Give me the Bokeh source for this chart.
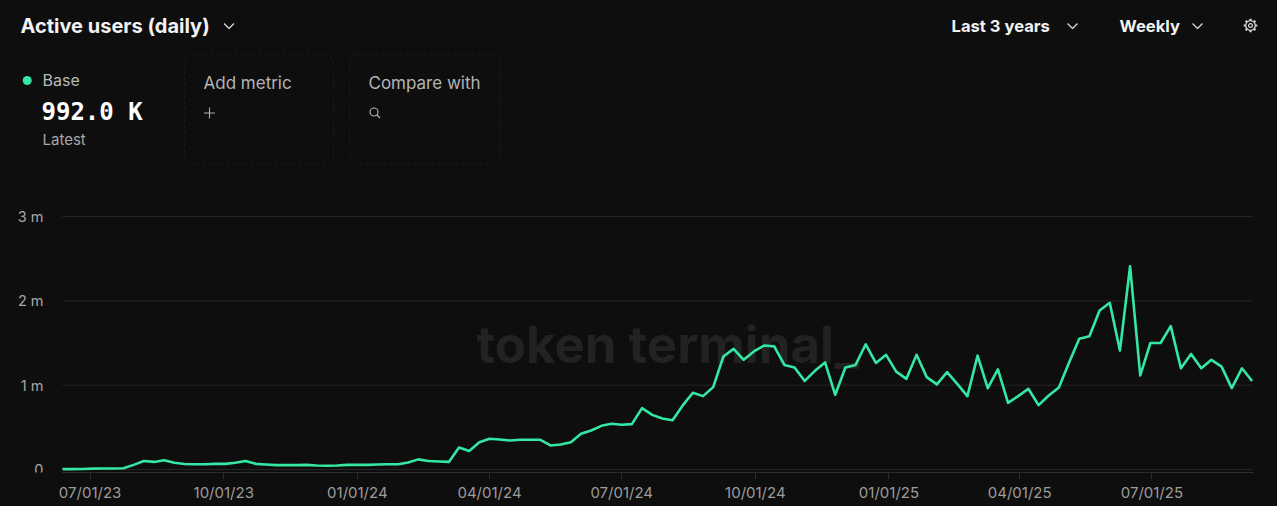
import math
import pandas as pd
from bokeh.plotting import figure
from bokeh.models import (Range1d, FixedTicker, DatetimeTickFormatter,
                          Label, BoxAnnotation, ColumnDataSource)
from bokeh.embed import file_html
from bokeh.resources import INLINE
from bokeh.core.properties import value

# ---------------- data ----------------
start_week = "2023-06-12"
active_users_k = [
    4, 5, 6, 10, 12, 12, 15, 55, 100, 90,
    110, 80, 65, 63, 63, 67, 67, 80, 100, 67,
    60, 52, 52, 52, 55, 47, 44, 47, 55, 55,
    55, 60, 63, 63, 83, 120, 100, 95, 90, 260,
    220, 324, 364, 356, 344, 352, 352, 352, 285, 297,
    324, 423, 463, 518, 542, 530, 538, 728, 648, 605,
    585, 760, 910, 870, 977, 1340, 1430, 1300, 1400, 1470,
    1460, 1240, 1210, 1050, 1170, 1270, 886, 1210, 1240, 1485,
    1263, 1360, 1160, 1075, 1360, 1095, 1010, 1155, 1016, 870,
    1350, 965, 1186, 790, 870, 957, 763, 878, 973, 1270,
    1550, 1580, 1886, 1977, 1410, 2410, 1115, 1500, 1500, 1700,
    1200, 1370, 1200, 1300, 1220, 965, 1200, 1050,
]
tick_dates = ["2023-07-01", "2023-10-01", "2024-01-01", "2024-04-01", "2024-07-01",
              "2024-10-01", "2025-01-01", "2025-04-01", "2025-07-01"]
y_ticks = [0, 1_000_000, 2_000_000, 3_000_000]
y_tick_labels = ["0", "1 m", "2 m", "3 m"]
title_text = "Active users (daily)"
period_text = "Last 3 years"
freq_text = "Weekly"
series_name = "Base"
latest_value = "992.0 K"

dates = pd.date_range(start_week, periods=len(active_users_k), freq="7D")
users = [v * 1000 for v in active_users_k]
src = ColumnDataSource(dict(date=dates, users=users))

# ---------------- style / layout ----------------
BG = "#0e0e0e"
LINE = "#34e8a4"
FONT = "Inter"
W, H = 1277, 506
PLOT_L, PLOT_R = 62, 1252            # page x where the data area starts / ends
FB = 472                             # page y of frame bottom (x-axis line)
PX_PER_M = 84.33                     # vertical scale: pixels per million
ZERO_Y = 469                         # page y of the zero line
PX_PER_DAY = 1.4525

p = figure(width=W, height=H, x_axis_type="datetime",
           x_range=Range1d(dates[0] - pd.Timedelta(days=PLOT_L / PX_PER_DAY),
                           dates[0] + pd.Timedelta(days=(W - PLOT_L) / PX_PER_DAY)),
           y_range=Range1d(-(FB - ZERO_Y) / PX_PER_M * 1e6, ZERO_Y / PX_PER_M * 1e6),
           y_axis_location=None,
           output_backend="svg", toolbar_location=None,
           min_border_left=0, min_border_right=0, min_border_top=0, min_border_bottom=H - FB)
p.background_fill_color = BG
p.border_fill_color = BG
p.outline_line_color = None
p.grid.grid_line_color = None

# page-pixel coordinate system for header decorations (y = -page_y)
p.extra_x_ranges = {"px": Range1d(0, W)}
p.extra_y_ranges = {"px": Range1d(-FB, 0)}
PXR = dict(x_range_name="px", y_range_name="px")


def lab(x, y, s, size, color, font=FONT, style="normal", level="annotation"):
    p.add_layout(Label(x=x, y=-y, text=s, text_font=font, text_font_size=f"{size}px",
                       text_font_style=style, text_color=color, text_baseline="middle",
                       text_align="left", level=level, **PXR))


def chevron(cx, cy, color="#d8d8d8"):
    p.line(x=[cx - 5, cx, cx + 5], y=[-(cy - 2.5), -(cy + 2.5), -(cy - 2.5)],
           line_color=color, line_width=1.3, **PXR)


# horizontal grid lines at the y ticks (data y, page x extent)
p.segment(x0=PLOT_L, x1=PLOT_R, y0=y_ticks, y1=y_ticks, line_color="#262626", line_width=1,
          x_range_name="px", level="underlay")
# y tick labels
p.text(x=43, y=y_ticks, text=y_tick_labels, text_align="right", text_baseline="middle",
       text_font=value(FONT), text_font_size="14.5px", text_color="#a8a8a8", x_range_name="px")

# watermark
lab(476, 344, "token terminal_", 51, "#222222", style="bold", level="underlay")

# header texts
lab(20, 25, title_text, 20, "#f2f2f2", style="bold")
chevron(228.5, 25.5)
lab(951, 25, period_text, 16.6, "#f2f2f2", style="bold")
chevron(1072, 25.5)
lab(1119, 25, freq_text, 16.6, "#f2f2f2", style="bold")
chevron(1197, 25.5)

# gear icon
gx, gy = 1250, 25
p.circle(x=[gx], y=[-gy], radius=4.8, fill_color=None, line_color="#d8d8d8", line_width=1.3, **PXR)
p.circle(x=[gx], y=[-gy], radius=1.9, fill_color=None, line_color="#d8d8d8", line_width=1.2, **PXR)
teeth_x, teeth_y = [], []
for k in range(8):
    a = k * math.pi / 4
    teeth_x.append([gx + 4.8 * math.cos(a), gx + 6.8 * math.cos(a)])
    teeth_y.append([-gy + 4.8 * math.sin(a), -gy + 6.8 * math.sin(a)])
p.multi_line(xs=teeth_x, ys=teeth_y, line_color="#d8d8d8", line_width=2.2, **PXR)

# legend / latest value
p.circle(x=[26.7], y=[-80], radius=4.5, fill_color=LINE, line_color=None, **PXR)
lab(42, 79.5, series_name, 16, "#b8b8b8")
lab(41, 111.5, latest_value, 24, "#ffffff", font="DejaVu Sans Mono", style="bold")
lab(42, 139, "Latest", 15, "#a8a8a8")

# dashed boxes
for l, r in [(184, 333), (349, 500)]:
    p.add_layout(BoxAnnotation(left=l, right=r, top=-54, bottom=-164, fill_color=None, fill_alpha=0,
                               line_color="#3a3a3a", line_dash="3 3", line_width=1, border_radius=8,
                               **PXR))
lab(203, 82, "Add metric", 17, "#b4b4b4")
lab(368, 82, "Compare with", 17, "#b4b4b4")
p.multi_line(xs=[[203.5, 214.5], [209, 209]], ys=[[-112.5, -112.5], [-107, -118]],
             line_color="#b0b0b0", line_width=1.1, **PXR)
p.circle(x=[373.5], y=[-111.5], radius=4, fill_color=None, line_color="#b0b0b0", line_width=1.2, **PXR)
p.line(x=[376.5, 379.5], y=[-114.5, -117.5], line_color="#b0b0b0", line_width=1.2, **PXR)

# ---------------- data line ----------------
p.line(x="date", y="users", source=src, line_color=LINE, line_width=2.6, line_join="round")

tick_ms = [pd.Timestamp(d).value / 1e6 for d in tick_dates]
p.xaxis.ticker = FixedTicker(ticks=tick_ms)
fmt = "%m/%d/%y"
p.xaxis.formatter = DatetimeTickFormatter(milliseconds=fmt, seconds=fmt, minsec=fmt, minutes=fmt,
                                          hourmin=fmt, hours=fmt, days=fmt, months=fmt, years=fmt)
p.xaxis.bounds = (dates[0].to_pydatetime(), (dates[-1] + pd.Timedelta(days=1)).to_pydatetime())
p.xaxis.axis_line_color = "#2e2e2e"
p.xaxis.axis_line_width = 1
p.xaxis.major_tick_line_color = "#2a2a2a"
p.xaxis.major_tick_in = 0
p.xaxis.major_tick_out = 7
p.xaxis.minor_tick_line_color = None
p.xaxis.major_label_standoff = 3
p.xaxis.major_label_text_font = FONT
p.xaxis.major_label_text_font_size = "15px"
p.xaxis.major_label_text_color = "#9c9c9c"

html = file_html(p, INLINE)
html = html.replace("</head>", "<style>body{background:#0e0e0e;}</style></head>", 1)
open("out.html", "w").write(html)
